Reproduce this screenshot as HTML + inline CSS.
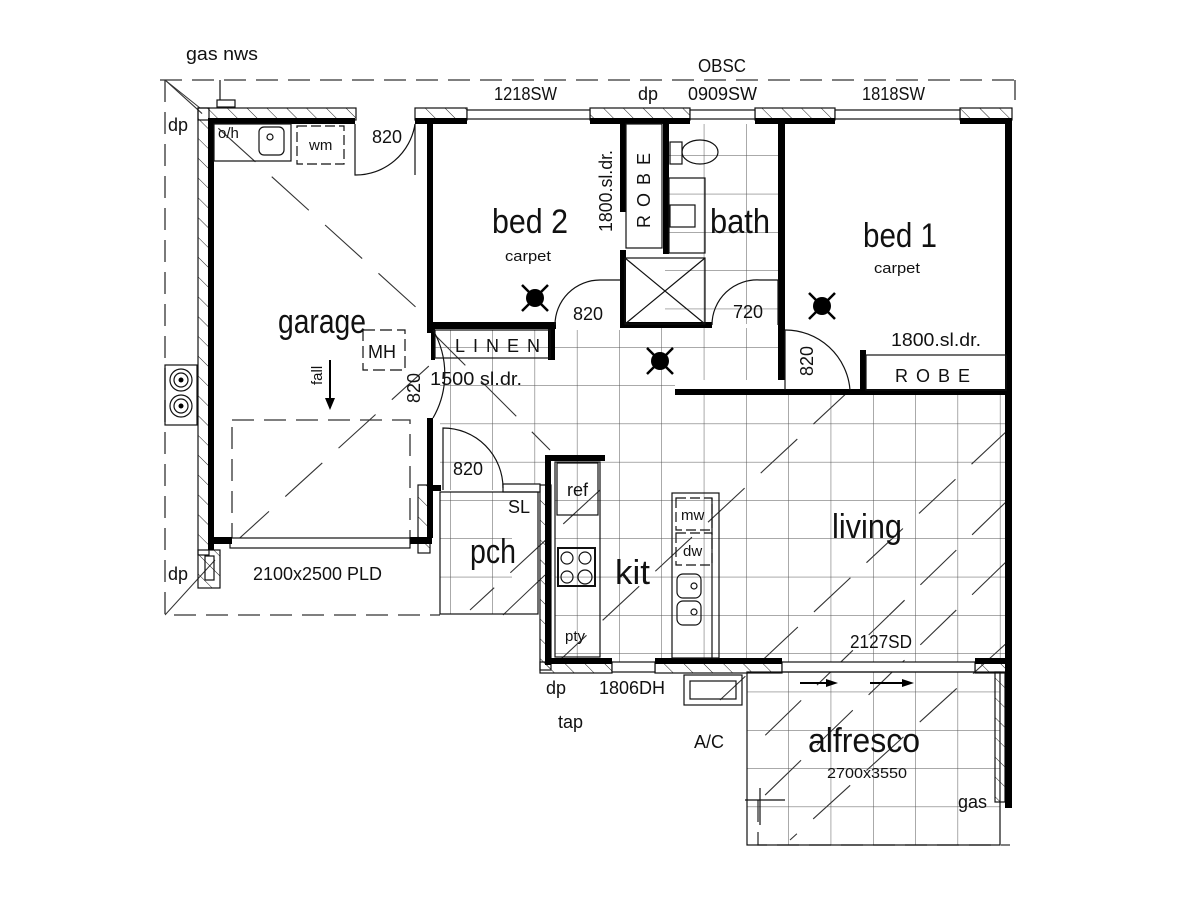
<!DOCTYPE html>
<html><head><meta charset="utf-8"><style>
html,body{margin:0;padding:0;background:#fff}
svg{display:block}
text{font-family:"Liberation Sans Narrow","Liberation Sans",sans-serif;fill:#111}
</style></head><body>
<svg width="1200" height="900" viewBox="0 0 1200 900" xmlns="http://www.w3.org/2000/svg">
<defs>
<pattern id="g" x="450" y="347" width="42.3" height="38.3" patternUnits="userSpaceOnUse">
<path d="M0 0V38.3M0 0H42.3" stroke="#555" stroke-width="1" fill="none"/>
</pattern>
<pattern id="h" width="14" height="14" patternUnits="userSpaceOnUse" patternTransform="rotate(-45)">
<path d="M0 0V14" stroke="#222" stroke-width="1"/>
</pattern>
</defs>
<path d="M431 330H623V328H782V380H675V392H1008V662H555V458H545V490H440V360H431Z" fill="url(#g)"/>
<rect x="665" y="124" width="115" height="200" fill="url(#g)"/>
<rect x="440" y="492" width="72" height="122" fill="url(#g)"/>
<rect x="747" y="672" width="253" height="173" fill="url(#g)"/>
<g stroke="#333" stroke-width="1.3" fill="none" stroke-dasharray="22 10">
<path d="M160 80H1015"/><path d="M165 80V615H440"/>
<path d="M232 420H410V545M232 545V420"/>
<path d="M1015 80V100"/>
<path d="M758 800V845H1010"/>
</g>
<g stroke="#333" stroke-width="1.1" stroke-dasharray="50 22" fill="none">
<path d="M165 80L430 320"/><path d="M232 545L430 365"/>
<path d="M430 330L550 450"/>
<path d="M600 490L470 610"/>
<path d="M850 390L560 660"/><path d="M1008 430L720 700"/>
<path d="M1008 500L750 750"/><path d="M1008 560L760 800"/>
<path d="M1010 640L790 840"/>
</g>
<path d="M165 80L200 108M165 615L215 560M503 615L545 575" stroke="#333" stroke-width="1"/>
<g fill="url(#h)" stroke="#111" stroke-width="1.2">
<rect x="198" y="108" width="158" height="12"/>
<rect x="415" y="108" width="52" height="12"/>
<rect x="590" y="108" width="100" height="12"/>
<rect x="755" y="108" width="80" height="12"/>
<rect x="960" y="108" width="52" height="12"/>
<rect x="198" y="108" width="11" height="447"/>
<rect x="198" y="550" width="22" height="38"/>
<rect x="418" y="485" width="12" height="68"/>
<rect x="540" y="485" width="11" height="185"/>
<rect x="540" y="662" width="72" height="11"/>
<rect x="655" y="662" width="127" height="11"/>
<rect x="975" y="662" width="35" height="11"/>
<rect x="995" y="672" width="10" height="130"/>
</g>
<g fill="#fff" stroke="#111" stroke-width="1.2">
<rect x="467" y="110" width="123" height="9"/>
<rect x="690" y="110" width="65" height="9"/>
<rect x="835" y="110" width="125" height="9"/>
<rect x="612" y="662" width="43" height="10"/>
<rect x="782" y="662" width="193" height="10"/>
<rect x="230" y="538" width="180" height="10"/>
<rect x="503" y="484" width="37" height="8"/>
</g>
<g fill="#000">
<rect x="208" y="118" width="147" height="6"/>
<rect x="208" y="118" width="6" height="432"/>
<rect x="208" y="537" width="24" height="7"/>
<rect x="410" y="537" width="22" height="7"/>
<rect x="427" y="118" width="6" height="215"/>
<rect x="427" y="418" width="6" height="120"/>
<rect x="427" y="485" width="14" height="6"/>
<rect x="415" y="118" width="52" height="6"/>
<rect x="590" y="118" width="100" height="6"/>
<rect x="755" y="118" width="80" height="6"/>
<rect x="960" y="118" width="52" height="6"/>
<rect x="1005" y="118" width="7" height="690"/>
<rect x="431" y="322" width="125" height="7"/>
<rect x="548" y="322" width="7" height="38"/>
<rect x="431" y="322" width="4" height="38"/>
<rect x="620" y="122" width="6" height="90"/>
<rect x="620" y="250" width="6" height="78"/>
<rect x="663" y="122" width="6" height="132"/>
<rect x="620" y="322" width="92" height="6"/>
<rect x="778" y="122" width="7" height="258"/>
<rect x="675" y="389" width="337" height="6"/>
<rect x="860" y="350" width="6" height="42"/>
<rect x="545" y="455" width="60" height="6"/>
<rect x="545" y="455" width="6" height="210"/>
<rect x="545" y="658" width="67" height="6"/>
<rect x="655" y="658" width="127" height="6"/>
<rect x="975" y="658" width="35" height="6"/>
</g>
<g stroke="#111" stroke-width="1.2" fill="none">
<rect x="214" y="124" width="77" height="37"/>
<rect x="259" y="127" width="25" height="28" rx="5"/>
<circle cx="270" cy="137" r="3"/>
<rect x="297" y="126" width="47" height="38" stroke-dasharray="10 4"/>
<path d="M355 124V175A60 60 0 0 0 415 124"/><path d="M415 124V175"/>
<path d="M433 418A88 88 0 0 0 433 330"/>
<path d="M555 325A45 45 0 0 1 600 280H620"/>
<path d="M712 325A45 45 0 0 1 760 280H778V325"/>
<path d="M785 330A65 65 0 0 1 850 390"/><path d="M785 330V390"/>
<path d="M443 490V428A60 60 0 0 1 503 488"/>
<rect x="363" y="330" width="42" height="40" stroke-dasharray="12 5"/>
<rect x="866" y="355" width="140" height="35"/>
<rect x="435" y="330" width="115" height="28"/>
<rect x="625" y="258" width="80" height="66"/>
<path d="M625 258L705 324M705 258L625 324"/>
<rect x="626" y="124" width="36" height="124"/>
<rect x="669" y="178" width="36" height="75"/>
<rect x="670" y="205" width="25" height="22"/>
<ellipse cx="700" cy="152" rx="18" ry="12"/>
<rect x="670" y="142" width="12" height="22"/>
<rect x="440" y="492" width="98" height="122"/>
<rect x="555" y="462" width="45" height="195"/>
<rect x="557" y="463" width="41" height="52"/>
<rect x="558" y="548" width="37" height="38" stroke-width="2"/>
<circle cx="567" cy="558" r="6"/><circle cx="585" cy="558" r="6"/>
<circle cx="567" cy="577" r="6"/><circle cx="585" cy="577" r="7"/>
<rect x="672" y="493" width="47" height="165"/>
<rect x="676" y="498" width="36" height="32" stroke-dasharray="10 4"/>
<rect x="676" y="533" width="36" height="32" stroke-dasharray="10 4"/>
<rect x="677" y="574" width="24" height="24" rx="6"/><rect x="677" y="601" width="24" height="24" rx="6"/>
<circle cx="694" cy="586" r="3"/><circle cx="694" cy="612" r="3"/>
<path d="M712 498V658"/>
<rect x="747" y="672" width="253" height="173"/>
<rect x="684" y="675" width="58" height="30"/><rect x="690" y="681" width="46" height="18"/>
<rect x="165" y="365" width="32" height="60"/>
<circle cx="181" cy="380" r="11"/><circle cx="181" cy="380" r="7"/>
<circle cx="181" cy="406" r="11"/><circle cx="181" cy="406" r="7"/>
<rect x="205" y="556" width="9" height="24"/>
<rect x="217" y="100" width="18" height="7"/>
<path d="M220 80V100"/>
<path d="M760 788V825M745 800H785"/>
</g>
<g fill="#000">
<circle cx="181" cy="380" r="2.5"/><circle cx="181" cy="406" r="2.5"/>
<circle cx="535" cy="298" r="9"/><circle cx="822" cy="306" r="9"/><circle cx="660" cy="361" r="9"/>
<path d="M329 360V398H325L330 410L335 398H331V360Z"/>
<rect x="800" y="682" width="30" height="2"/>
<rect x="870" y="682" width="36" height="2"/><path d="M914 683L902 679V687Z"/><path d="M838 683L826 679V687Z"/>
</g>
<g stroke="#000" stroke-width="2.5">
<path d="M522 285L548 311M548 285L522 311"/><path d="M809 293L835 319M835 293L809 319"/><path d="M647 348L673 374M673 348L647 374"/>
</g>
<g font-size="18">
<text x="186" y="60" textLength="72" lengthAdjust="spacingAndGlyphs">gas nws</text>
<text x="698" y="72" textLength="48" lengthAdjust="spacingAndGlyphs">OBSC</text>
<text x="494" y="100" textLength="63" lengthAdjust="spacingAndGlyphs">1218SW</text>
<text x="638" y="100">dp</text>
<text x="688" y="100" textLength="69" lengthAdjust="spacingAndGlyphs">0909SW</text>
<text x="862" y="100" textLength="63" lengthAdjust="spacingAndGlyphs">1818SW</text>
<text x="168" y="131">dp</text>
<text x="372" y="143">820</text>
<text x="573" y="320">820</text>
<text x="733" y="318">720</text>
<text x="891" y="346" textLength="90" lengthAdjust="spacingAndGlyphs">1800.sl.dr.</text>
<text x="430" y="385" textLength="92" lengthAdjust="spacingAndGlyphs">1500 sl.dr.</text>
<text x="453" y="475">820</text>
<text x="508" y="513">SL</text>
<text x="168" y="580">dp</text>
<text x="253" y="580" textLength="129" lengthAdjust="spacingAndGlyphs">2100x2500 PLD</text>
<text x="850" y="648" textLength="62" lengthAdjust="spacingAndGlyphs">2127SD</text>
<text x="546" y="694">dp</text>
<text x="599" y="694" textLength="66" lengthAdjust="spacingAndGlyphs">1806DH</text>
<text x="558" y="728">tap</text>
<text x="694" y="748">A/C</text>
<text x="958" y="808">gas</text>
<text x="420" y="403" transform="rotate(-90 420 403)">820</text>
<text x="813" y="376" transform="rotate(-90 813 376)">820</text>
<text x="612" y="232" transform="rotate(-90 612 232)" textLength="82" lengthAdjust="spacingAndGlyphs">1800.sl.dr.</text>
</g>
<g font-size="34">
<text x="278" y="333" textLength="88" lengthAdjust="spacingAndGlyphs">garage</text>
<text x="492" y="233" textLength="76" lengthAdjust="spacingAndGlyphs">bed 2</text>
<text x="863" y="247" textLength="74" lengthAdjust="spacingAndGlyphs">bed 1</text>
<text x="710" y="233" textLength="60" lengthAdjust="spacingAndGlyphs">bath</text>
<text x="470" y="563" textLength="46" lengthAdjust="spacingAndGlyphs">pch</text>
<text x="615" y="584" textLength="35" lengthAdjust="spacingAndGlyphs">kit</text>
<text x="832" y="538" textLength="70" lengthAdjust="spacingAndGlyphs">living</text>
<text x="808" y="752" textLength="112" lengthAdjust="spacingAndGlyphs">alfresco</text>
</g>
<g font-size="15">
<text x="505" y="261" textLength="46" lengthAdjust="spacingAndGlyphs">carpet</text>
<text x="874" y="273" textLength="46" lengthAdjust="spacingAndGlyphs">carpet</text>
<text x="827" y="778" textLength="80" lengthAdjust="spacingAndGlyphs">2700x3550</text>
<text x="309" y="150">wm</text>
<text x="218" y="138">o/h</text>
<text x="681" y="520">mw</text>
<text x="683" y="556">dw</text>
<text x="565" y="641">pty</text>
<text x="368" y="358" font-size="18">MH</text>
<text x="567" y="496" font-size="18">ref</text>
<text x="322" y="385" transform="rotate(-90 322 385)">fall</text>
</g>
<g font-size="18" letter-spacing="8">
<text x="455" y="352">LINEN</text>
<text x="895" y="382">ROBE</text>
<text x="650" y="228" transform="rotate(-90 650 228)">ROBE</text>
</g>
</svg>
</body></html>
